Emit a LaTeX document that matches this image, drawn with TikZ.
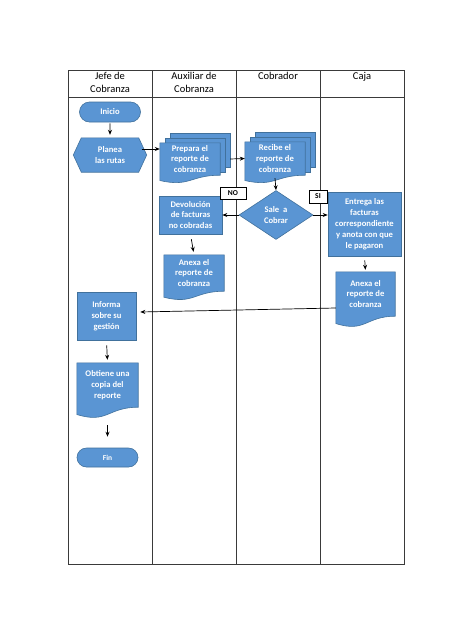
\documentclass[tikz,border=0pt]{standalone}
\usepackage{fontspec}
\setmainfont{Carlito}
\usetikzlibrary{shapes.geometric,shapes.misc,arrows.meta,calc,backgrounds}
\definecolor{fillb}{HTML}{5A95D3}
\definecolor{edgeb}{HTML}{41719C}
\definecolor{gridc}{HTML}{3A3A3A}
\tikzset{
  shp/.style={fill=fillb,draw=edgeb,line width=0.6pt},
  lbl/.style={text=white,font=\bfseries\fontsize{8.6}{10.9}\selectfont,align=center,inner sep=0pt},
  procbox/.style={shp,lbl,rectangle},
  docnode/.style={lbl,rectangle},
  termbox/.style={shp,lbl,rounded rectangle,minimum width=61pt},
  decbox/.style={shp,lbl,diamond,aspect=1.5},
  tagbox/.style={draw=black,fill=white,line width=0.5pt,inner sep=0pt,font=\bfseries\fontsize{7.5}{9}\selectfont},
  headtxt/.style={anchor=north,inner sep=0pt,align=center,font=\fontsize{10.5}{12.7}\selectfont},
  arr/.style={-{Stealth[length=5pt,width=4pt]},line width=0.7pt,black},
  grid/.style={draw=gridc,line width=0.8pt}
}
% document shape drawn around a named node (the node is the upper body)
\newcommand\docwave[3]{%
  \path[shp] (#1.north west) -- (#1.north east) -- (#1.south east)
    .. controls (#1.south) and ($(#1.south)+(0,#3)$) .. ($(#1.south west)+(0,#2)$) -- cycle;}
\newcommand\backsheet[2]{%
  \path[shp] ($(#1.north west)+(#2,-#2)$) rectangle ($(#1.south east)+(#2,-#2+2)$);}
\begin{document}
\begin{tikzpicture}[x=1pt,y=-1pt]
\useasboundingbox (0,0) rectangle (474,632);

% swimlane table
\path[grid] (68,70) rectangle (404,564);
\draw[grid] (68,97) -- (404,97);
\draw[grid] (152,70) -- (152,564);
\draw[grid] (236,70) -- (236,564);
\draw[grid] (320,70) -- (320,564);

\node[headtxt] (h1) at (110,72) {Jefe de\\Cobranza};
\node[headtxt] (h2) at (194,72) {Auxiliar de\\Cobranza};
\node[headtxt] (h3) at (278,72) {Cobrador};
\node[headtxt] (h4) at (362,72) {Caja};

% nodes
\node[termbox,minimum height=20pt] (ini) at (110,112) {Inicio};
\node[lbl,minimum width=73pt,minimum height=34pt] (pla) at (110,155) {Planea\\las rutas};
\node[docnode,minimum width=60pt,minimum height=32pt] (pre) at (190,159) {Prepara el\\reporte de\\cobranza};
\node[docnode,minimum width=60pt,minimum height=33pt] (rec) at (275,158.5) {Recibe el\\reporte de\\cobranza};
\node[decbox,minimum width=74pt,minimum height=49pt] (dia) at (276,215) {Sale\ \ a\\Cobrar};
\node[procbox,minimum width=63pt,minimum height=38pt] (dev) at (190.5,215) {Devolución\\de facturas\\no cobradas};
\node[procbox,minimum width=73pt,minimum height=64pt] (ent) at (364.5,224) {Entrega las\\facturas\\correspondiente\\y anota con que\\le pagaron};
\node[docnode,minimum width=60pt,minimum height=36pt] (anx1) at (194,273) {Anexa el\\reporte de\\cobranza};
\node[docnode,minimum width=59pt,minimum height=44pt] (anx2) at (365.5,294) {Anexa el\\reporte de\\cobranza};
\node[procbox,minimum width=59pt,minimum height=48pt] (inf) at (106.5,316) {Informa\\sobre su\\gestión};
\node[docnode,minimum width=61pt,minimum height=44pt] (obt) at (107.5,385) {Obtiene una\\copia del\\reporte};
\node[termbox,minimum height=19pt,font=\bfseries\fontsize{7.5}{9}\selectfont] (fin) at (107.5,457.5) {Fin};

\node[tagbox,minimum width=26pt,minimum height=12pt] (no) at (233,193) {NO};
\node[tagbox,minimum width=18pt,minimum height=13pt] (si) at (318,196.5) {SI};

% shapes drawn behind the texts
\begin{scope}[on background layer]
  \fill[white] (0,0) rectangle (474,632);
  \path[shp] (pla.west) -- ([xshift=8pt]pla.north west) -- ([xshift=-8pt]pla.north east)
     -- (pla.east) -- ([xshift=-8pt]pla.south east) -- ([xshift=8pt]pla.south west) -- cycle;
  \backsheet{pre}{10}
  \backsheet{pre}{5}
  \docwave{pre}{5.3}{12.2}
  \backsheet{rec}{10}
  \backsheet{rec}{5}
  \docwave{rec}{5.3}{12.2}
  \docwave{anx1}{6}{13.7}
  \docwave{anx2}{7.3}{16.8}
  \docwave{obt}{7.3}{16.8}
\end{scope}

% connectors
\coordinate (plaout) at ([yshift=6pt]pla.east);
\draw[arr,shorten <=1pt,shorten >=3pt] (ini) -- (pla.north);
\draw[arr] ([xshift=-5pt]plaout) -- (plaout -| pre.west);
\draw[arr] ([xshift=10pt]pre.east) -- (rec.west);
\draw[arr] ([yshift=-3pt]rec.south) -- (dia.north);
\draw[arr] (dia.west) -- (dev.east);
\draw[arr] (dia.east) -- (dia.east -| ent.west);
\draw[arr,shorten <=5pt,shorten >=3pt] (dev.south) -- (anx1.north);
\draw[arr,shorten <=4pt,shorten >=2pt] (ent.south) -- (anx2.north);
\draw[arr] ([yshift=-14pt]anx2.west) -- ([xshift=4pt,yshift=4pt]inf.east);
\draw[arr,shorten <=5pt,shorten >=3pt] (inf.south) -- (obt.north);
\draw[arr,shorten <=18pt,shorten >=11pt] (obt.south) -- (fin.north);
\end{tikzpicture}
\end{document}
